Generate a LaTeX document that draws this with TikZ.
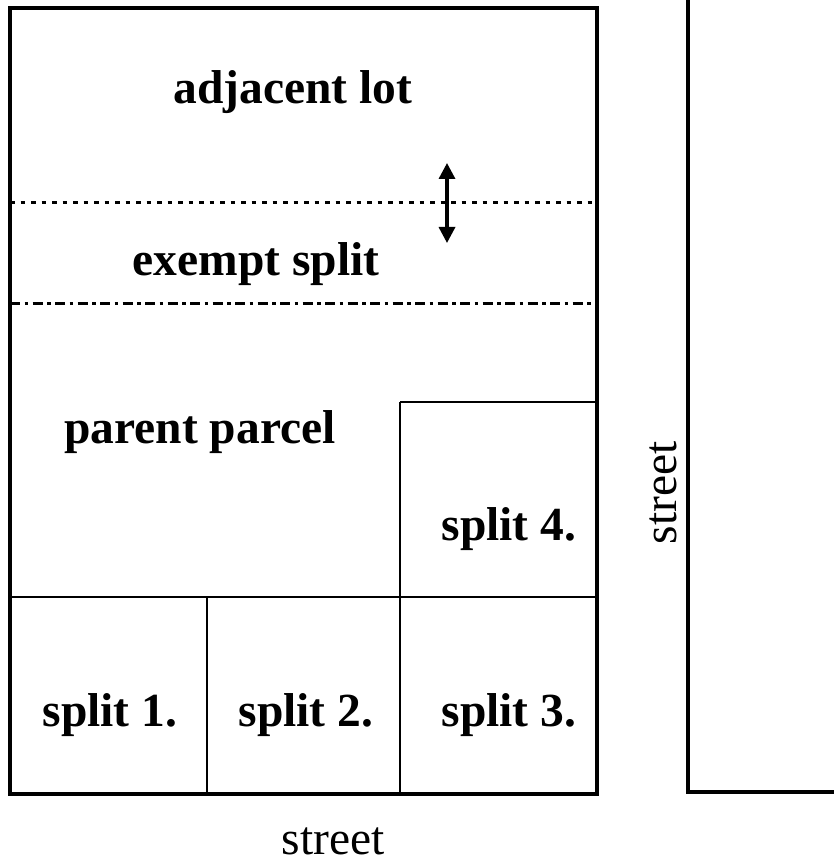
\documentclass[tikz,border=0pt]{standalone}
\usepackage{fontspec}
\setmainfont{Liberation Serif}
\usetikzlibrary{arrows.meta}
\tikzset{
  border/.style={line width=4pt, line cap=rect, line join=miter},
  inner/.style={line width=2.8pt},
  dotline/.style={line width=3pt, dash pattern=on 4.5pt off 6pt},
  dashdotline/.style={line width=3pt, dash pattern=on 10pt off 4.5pt on 3.5pt off 4.5pt},
  lbl/.style={font=\fontsize{47.5}{52}\selectfont\bfseries, anchor=base, inner sep=0pt},
  streetlbl/.style={font=\fontsize{47.5}{52}\selectfont, anchor=base, inner sep=0pt},
  dblarrow/.style={line width=3.4pt, {Triangle[length=16pt,width=16pt]}-{Triangle[length=16pt,width=16pt]}}
}
\begin{document}
\begin{tikzpicture}[x=1pt,y=-1pt]
\useasboundingbox (0,0) rectangle (833,866);
% lot geometry
\coordinate (tl) at (10,8);
\coordinate (br) at (597,794);
\draw[dotline] (10,203) -- (597,203);
\draw[dashdotline] (10,303) -- (597,303);
\draw[inner] (10,597) -- (597,597);
\draw[inner] (207,597) -- (207,794);
\draw[inner] (400,402) -- (400,794);
\draw[inner] (400,402) -- (597,402);
\draw[border] (tl) rectangle (br);
% adjustment arrow
\coordinate (atop) at (447,163);
\coordinate (abot) at (447,243);
\draw[dblarrow] (atop) -- (abot);
% street on the right
\coordinate (s1) at (688,-5);
\coordinate (s2) at (688,792);
\coordinate (s3) at (840,792);
\draw[border] (s1) -- (s2) -- (s3);
% labels
\node[lbl] (adj) at (293,104) {adjacent lot};
\node[lbl] (ex) at (256,276) {exempt split};
\node[lbl] (par) at (200,443) {parent parcel};
\node[lbl] (sp4) at (509,540) {split 4.};
\node[lbl] (sp1) at (110,726) {split 1.};
\node[lbl] (sp2) at (306,726) {split 2.};
\node[lbl] (sp3) at (509,726) {split 3.};
\node[streetlbl] (stb) at (333,854) {street};
\node[streetlbl, rotate=90] (str) at (676,493) {street};
\end{tikzpicture}
\end{document}
